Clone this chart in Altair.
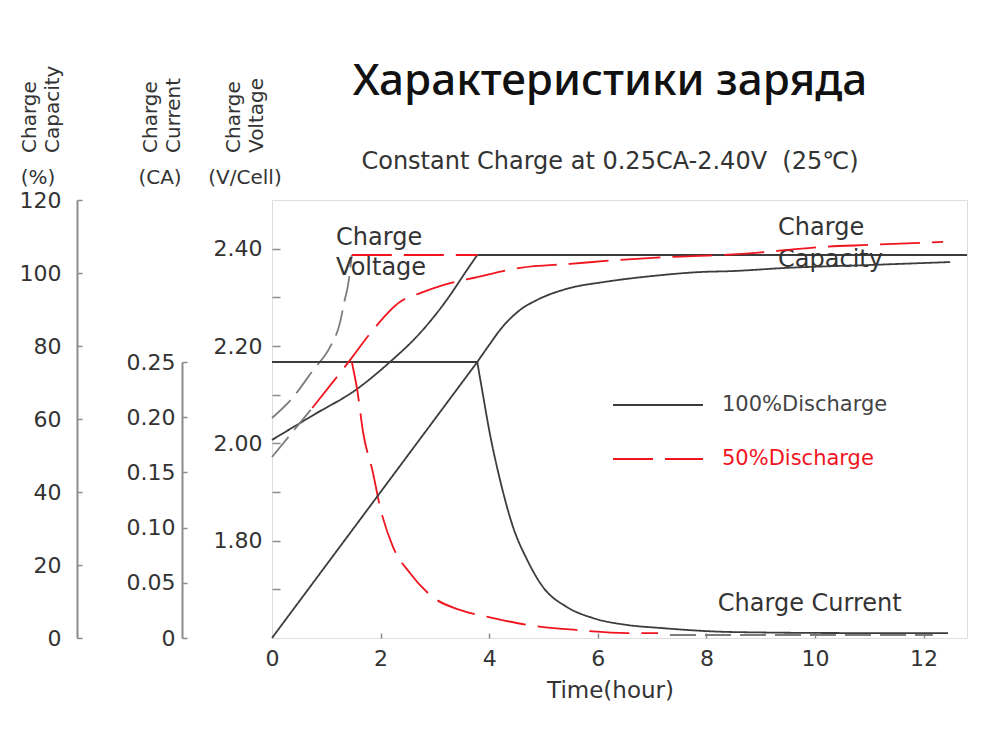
import altair as alt
import pandas as pd

# ---------------- data ----------------
time_ticks = [0, 2, 4, 6, 8, 10, 12]
time_minor = [2, 4, 6, 8, 10, 12]
volt_ticks = [1.8, 2.0, 2.2, 2.4]
volt_minor = [1.7, 1.8, 1.9, 2.0, 2.1, 2.2, 2.3, 2.4]
cur_ticks = [0, 0.05, 0.10, 0.15, 0.20, 0.25]
cap_ticks = [0, 20, 40, 60, 80, 100, 120]

# Charge voltage (V/cell)
v100_rise_t = [0, 0.76, 1.57, 2.17, 2.73, 3.22, 3.59, 3.78]
v100_rise_v = [2.007, 2.058, 2.112, 2.167, 2.227, 2.295, 2.356, 2.387]
v100_flat_t = [3.78, 12.8]
v100_flat_v = [2.387, 2.387]
v50_rise_t = [0, 0.39, 0.76, 1.07, 1.25, 1.34, 1.40, 1.47]
v50_rise_v = [2.052, 2.095, 2.151, 2.198, 2.247, 2.295, 2.325, 2.387]
v50_flat_t = [1.47, 3.78]
v50_flat_v = [2.387, 2.387]

# Charge current (CA)
i100_flat_t = [0, 3.78]
i100_flat_v = [0.25, 0.25]
i100_fall_t = [3.78, 3.87, 4.01, 4.20, 4.44, 4.70, 4.99, 5.43, 5.91, 6.54, 7.15, 8.49, 10.64, 12.45]
i100_fall_v = [0.25, 0.2246, 0.1857, 0.1431, 0.1005, 0.0707, 0.0462, 0.0281, 0.0181, 0.0118, 0.0091, 0.0054, 0.0045, 0.0045]
i50_fall_t = [1.47, 1.57, 1.68, 1.86, 1.99, 2.23, 2.54, 2.96, 3.46, 4.07, 4.70, 5.62, 6.54, 7.11]
i50_fall_v = [0.25, 0.2246, 0.1857, 0.1495, 0.1187, 0.0824, 0.0589, 0.0371, 0.0254, 0.0181, 0.0118, 0.0072, 0.0045, 0.0045]
i50_tail_t = [7.33, 12.17]
i50_tail_v = [0.0027, 0.0027]

# Charge capacity (%)
c100_lin_t = [0, 3.78]
c100_lin_v = [0, 75.6]
c100_curve_t = [3.78, 4.01, 4.20, 4.57, 4.88, 5.49, 6.10, 7.02, 7.94, 8.43, 9.48, 11.01, 12.49]
c100_curve_v = [75.6, 80.5, 84.4, 89.9, 92.6, 95.9, 97.5, 99.2, 100.3, 100.5, 101.4, 102.2, 103.0]
c50_start_t = [0, 0.74]
c50_start_v = [49.6, 63.0]
c50_curve_t = [0.74, 1.44, 1.86, 2.36, 2.73, 3.15, 3.78, 4.57, 5.49, 6.41, 7.33, 8.25, 9.12, 10.09, 11.01, 12.36]
c50_curve_v = [63.0, 76.2, 84.4, 92.1, 94.5, 96.7, 98.9, 101.4, 102.5, 103.6, 104.4, 104.9, 105.8, 107.1, 107.7, 108.5]

legend_names = ["100%Discharge", "50%Discharge"]

# ---------------- styling ----------------
FONT = "DejaVu Sans"
TXT = "#333333"
GREY = "#8c8c8c"
styles = ["solid", "red", "grey"]
style_colors = ["#3c3c3c", "#f0141e", "#7d7d7d"]
style_dashes = [[1, 0], [40, 12], [26, 9]]


def seg(name, style, t, v):
    return pd.DataFrame({"t": t, "val": v, "seg": name, "style": style})


vdf = pd.concat([
    seg("v100r", "solid", v100_rise_t, v100_rise_v),
    seg("v100f", "solid", v100_flat_t, v100_flat_v),
    seg("v50r", "grey", v50_rise_t, v50_rise_v),
    seg("v50f", "red", v50_flat_t, v50_flat_v),
])
idf = pd.concat([
    seg("i100f", "solid", i100_flat_t, i100_flat_v),
    seg("i100d", "solid", i100_fall_t, i100_fall_v),
    seg("i50d", "red", i50_fall_t, i50_fall_v),
    seg("i50t", "grey", i50_tail_t, i50_tail_v),
])
cdf = pd.concat([
    seg("c100l", "solid", c100_lin_t, c100_lin_v),
    seg("c100c", "solid", c100_curve_t, c100_curve_v),
    seg("c50s", "grey", c50_start_t, c50_start_v),
    seg("c50c", "red", c50_curve_t, c50_curve_v),
])
one = pd.DataFrame({"k": [0]})

xs = alt.Scale(domain=[0, 12.8], nice=False, zero=False)
vscale = alt.Scale(domain=[1.6, 2.5], nice=False, zero=False)
iscale = alt.Scale(domain=[0, 0.25], range=[438, 162], nice=False)
cscale = alt.Scale(domain=[0, 120], nice=False)

color_enc = alt.Color("style:N", scale=alt.Scale(domain=styles, range=style_colors), legend=None)
dash_enc = alt.StrokeDash("style:N", scale=alt.Scale(domain=styles, range=style_dashes), legend=None)

lab = dict(labelFont=FONT, labelFontSize=22, labelColor=TXT, labelFlush=False, grid=False)


def curves(df, yscale, xaxis, yaxis):
    return alt.Chart(df).mark_line(strokeWidth=1.8, interpolate="monotone").encode(
        x=alt.X("t:Q", scale=xs, axis=xaxis),
        y=alt.Y("val:Q", scale=yscale, axis=yaxis),
        color=color_enc,
        strokeDash=dash_enc,
        detail="seg:N",
    )


def ticks_only(df, yscale, yaxis, xaxis=None):
    return alt.Chart(df).mark_line(opacity=0).encode(
        x=alt.X("t:Q", scale=xs, axis=xaxis),
        y=alt.Y("val:Q", scale=yscale, axis=yaxis),
        detail="seg:N",
    )


x_main_axis = alt.Axis(orient="bottom", values=time_ticks, title="Time(hour)", ticks=False, tickSize=0,
                       domain=False, labelPadding=10, titleFont=FONT, titleFontSize=23, titleColor=TXT,
                       titleFontWeight="normal", titlePadding=10, titleX=338, **lab)
v_axis = alt.Axis(orient="left", values=volt_ticks, format=".2f", ticks=False, tickSize=0, domain=False,
                  labelPadding=10, title=None, **lab)
v_tick_axis = alt.Axis(orient="left", values=volt_minor, labels=False, domain=False, ticks=True,
                       tickSize=8, tickColor=GREY, tickWidth=1.5, offset=-8, grid=False, title=None)
x_tick_axis = alt.Axis(orient="bottom", values=time_minor, labels=False, domain=False, ticks=True,
                       tickSize=5, tickColor=GREY, tickWidth=1.5, offset=-5, grid=False, title=None)
i_axis = alt.Axis(orient="left", offset=90, values=cur_ticks,
                  labelExpr="datum.value == 0 ? '0' : format(datum.value, '.2f')",
                  ticks=False, tickSize=0, domain=True, domainColor=GREY, domainWidth=2,
                  labelPadding=7, title=None, **lab)
i_tick_axis = alt.Axis(orient="left", offset=85, values=cur_ticks, labels=False, domain=False, ticks=True,
                       tickSize=5, tickColor=GREY, tickWidth=1.5, grid=False, title=None)
c_axis = alt.Axis(orient="left", offset=195, values=cap_ticks, ticks=False, tickSize=0, domain=True,
                  domainColor=GREY, domainWidth=2, labelPadding=16, title=None, **lab)
c_tick_axis = alt.Axis(orient="left", offset=190, values=cap_ticks, labels=False, domain=False, ticks=True,
                       tickSize=5, tickColor=GREY, tickWidth=1.5, grid=False, title=None)


def note(txt, t, v, size=24):
    return alt.Chart(one).mark_text(align="left", baseline="middle", font=FONT, fontSize=size, color=TXT).encode(
        x=alt.X(datum=t, type="quantitative", scale=xs, axis=None),
        y=alt.Y(datum=v, type="quantitative", scale=vscale, axis=None),
        text=alt.value(txt),
    )


volt_child = curves(vdf, vscale, x_main_axis, v_axis)
notes_child = alt.layer(
    note("Charge", 1.18, 2.422),
    note("Voltage", 1.18, 2.360),
    note("Charge", 9.32, 2.442),
    note("Capacity", 9.32, 2.377),
    note("Charge Current", 8.21, 1.670),
)
volt_ticks_child = ticks_only(vdf, vscale, v_tick_axis, x_tick_axis)
cur_child = curves(idf, iscale, None, i_axis)
cur_ticks_child = ticks_only(idf, iscale, i_tick_axis)
cap_child = curves(cdf, cscale, None, c_axis)
cap_ticks_child = ticks_only(cdf, cscale, c_tick_axis)


def ptext(txt, x, y, size=20, align="center", baseline="middle", angle=0, font=FONT, weight="normal",
          color=TXT, lineHeight=23):
    return alt.Chart(one).mark_text(text=txt, align=align, baseline=baseline, angle=angle, font=font,
                                    fontSize=size, fontWeight=weight, color=color,
                                    lineBreak="\n", lineHeight=lineHeight).encode(
        x=alt.value(x), y=alt.value(y))


decor = [
    ptext("Характеристики заряда", 338, -105, size=44, baseline="alphabetic", font="Noto Sans",
          weight=500, color="#111111"),
    ptext("Constant Charge at 0.25CA-2.40V\u00a0 (25℃)", 338, -31, size=24, baseline="alphabetic"),
    ptext("Charge\nCapacity", -236, -47, align="left", baseline="alphabetic", angle=270),
    ptext("(%)", -234, -22),
    ptext("Charge\nCurrent", -115, -47, align="left", baseline="alphabetic", angle=270),
    ptext("(CA)", -112, -22),
    ptext("Charge\nVoltage", -32, -47, align="left", baseline="alphabetic", angle=270),
    ptext("(V/Cell)", -27, -22),
    alt.Chart(one).mark_rule(color=style_colors[0], strokeWidth=1.8).encode(
        x=alt.value(341), x2=alt.value(431), y=alt.value(205)),
    alt.Chart(one).mark_rule(color=style_colors[1], strokeWidth=1.8, strokeDash=style_dashes[1]).encode(
        x=alt.value(341), x2=alt.value(431), y=alt.value(259)),
    ptext(legend_names[0], 450, 205, size=21, align="left", color="#444444"),
    ptext(legend_names[1], 450, 259, size=21, align="left", color="#f0141e"),
]

chart = alt.layer(
    volt_child, notes_child, volt_ticks_child, cur_child, cur_ticks_child, cap_child, cap_ticks_child, *decor
).resolve_scale(y="independent").resolve_axis(x="independent").properties(
    width=695, height=438,
    autosize=alt.AutoSizeParams(type="none"),
    padding={"left": 264, "top": 192, "right": 25, "bottom": 90},
).configure_view(stroke=GREY, strokeWidth=2).configure(background="white")

chart.save("out.html", embed_options={"renderer": "svg", "actions": False})
